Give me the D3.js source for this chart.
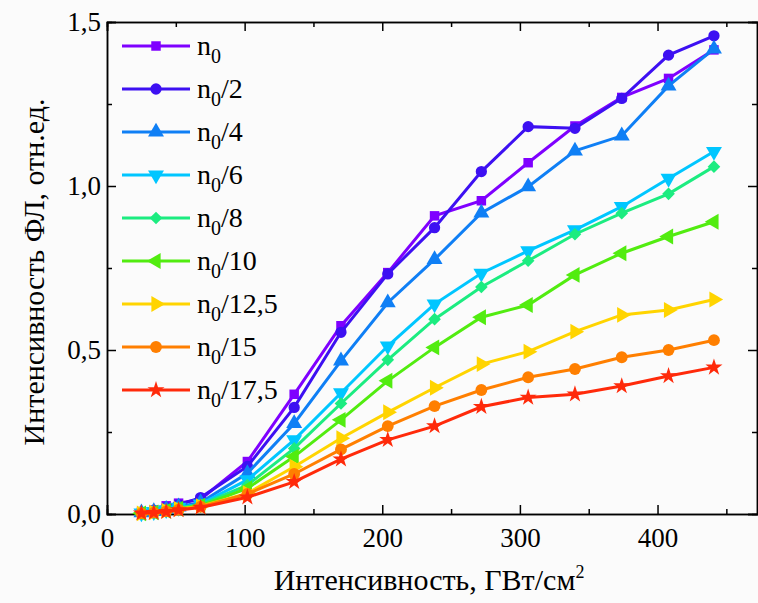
<!DOCTYPE html>
<html>
<head>
<meta charset='utf-8' />
<title>FL intensity</title>
<script src="https://d3js.org/d3.v7.min.js"></script>
<style>
  html, body { margin: 0; padding: 0; background: #fbfbfb; }
  svg { display: block; }
  .axis path, .axis line { stroke: #000; stroke-width: 1.5px; }
</style>
</head>
<body>
<script>
  // intensity, GW/cm^2
  const xVals = [25, 34, 43, 52, 68, 102, 136, 170, 204, 238, 272, 306, 340, 374, 408, 441]

  const seriesNames = ['/0', '/2', '/4', '/6', '/8', '/10', '/12,5', '/15', '/17,5']
  const seriesColors = ['#7f00ff', '#3d10f2', '#0f7ff5', '#00c6ff', '#1cec80', '#52ec10', '#ffd400', '#ff7f00', '#ff2a0a']

  const n0 = [0.005, 0.012, 0.025, 0.033, 0.045, 0.16, 0.365, 0.574, 0.736, 0.909, 0.955, 1.071, 1.183, 1.27, 1.328, 1.415]
  const n0_2 = [0.004, 0.01, 0.02, 0.028, 0.05, 0.145, 0.325, 0.554, 0.732, 0.873, 1.044, 1.181, 1.176, 1.267, 1.399, 1.458]
  const n0_4 = [0.004, 0.008, 0.015, 0.022, 0.035, 0.124, 0.276, 0.467, 0.644, 0.776, 0.918, 0.998, 1.107, 1.153, 1.305, 1.418]
  const n0_6 = [0.003, 0.007, 0.013, 0.02, 0.03, 0.104, 0.226, 0.369, 0.512, 0.64, 0.734, 0.802, 0.866, 0.937, 1.023, 1.105]
  const n0_8 = [0.003, 0.006, 0.012, 0.018, 0.028, 0.088, 0.2, 0.337, 0.47, 0.594, 0.692, 0.772, 0.853, 0.917, 0.976, 1.059]
  const n0_10 = [0.002, 0.005, 0.01, 0.016, 0.025, 0.078, 0.175, 0.287, 0.406, 0.508, 0.6, 0.637, 0.729, 0.795, 0.846, 0.891]
  const n0_12 = [0.002, 0.005, 0.01, 0.015, 0.024, 0.063, 0.144, 0.231, 0.31, 0.385, 0.457, 0.495, 0.556, 0.607, 0.622, 0.654]
  const n0_15 = [0.002, 0.004, 0.008, 0.013, 0.022, 0.061, 0.122, 0.197, 0.268, 0.329, 0.378, 0.417, 0.442, 0.478, 0.5, 0.53]
  const n0_17 = [0.002, 0.004, 0.007, 0.012, 0.02, 0.051, 0.098, 0.167, 0.226, 0.268, 0.327, 0.355, 0.365, 0.39, 0.421, 0.447]

  const seriesValues = [n0, n0_2, n0_4, n0_6, n0_8, n0_10, n0_12, n0_15, n0_17]

  const xTicks = [0, 100, 200, 300, 400]
  const xMinor = [50, 150, 250, 350, 450]
  const yTicks = [0, 0.5, 1.0, 1.5]
  const yMinor = [0.25, 0.75, 1.25]

  const W = 758, H = 603
  const plotL = 107, plotR = 758, plotT = 22, plotB = 514
  const SERIF = "'Liberation Serif', 'Times New Roman', serif"

  const svg = d3.select('body').append('svg')
    .attr('width', W)
    .attr('height', H)
    .attr('font-family', SERIF)

  const x = d3.scaleLinear().domain([0, 473]).range([plotL, plotR])
  const y = d3.scaleLinear().domain([0, 1.5]).range([plotB, plotT])

  const fmtY = d => d3.format('.1f')(d).replace('.', ',')

  // axes, ticks pointing inward
  const styleAxis = g => g.attr('font-family', SERIF).attr('font-size', 27)
    .call(s => s.selectAll('text').attr('fill', '#000'))

  svg.append('g').attr('class', 'axis')
    .attr('transform', `translate(0,${plotB})`)
    .call(d3.axisBottom(x).tickValues(xTicks).tickSize(-9).tickPadding(14).tickFormat(d3.format('d')))
    .call(styleAxis)
  svg.append('g').attr('class', 'axis')
    .attr('transform', `translate(0,${plotB})`)
    .call(d3.axisBottom(x).tickValues(xMinor).tickSize(-5).tickFormat(''))
  svg.append('g').attr('class', 'axis')
    .attr('transform', `translate(0,${plotT})`)
    .call(d3.axisTop(x).tickValues(xTicks).tickSize(-9).tickFormat(''))
  svg.append('g').attr('class', 'axis')
    .attr('transform', `translate(0,${plotT})`)
    .call(d3.axisTop(x).tickValues(xMinor).tickSize(-5).tickFormat(''))

  svg.append('g').attr('class', 'axis')
    .attr('transform', `translate(${plotL},0)`)
    .call(d3.axisLeft(y).tickValues(yTicks).tickSize(-9).tickPadding(6).tickFormat(fmtY))
    .call(styleAxis)
  svg.append('g').attr('class', 'axis')
    .attr('transform', `translate(${plotL},0)`)
    .call(d3.axisLeft(y).tickValues(yMinor).tickSize(-5).tickFormat(''))
  svg.append('g').attr('class', 'axis')
    .attr('transform', `translate(${plotR - 1},0)`)
    .call(d3.axisRight(y).tickValues(yTicks).tickSize(-9).tickFormat(''))
  svg.append('g').attr('class', 'axis')
    .attr('transform', `translate(${plotR - 1},0)`)
    .call(d3.axisRight(y).tickValues(yMinor).tickSize(-5).tickFormat(''))

  svg.selectAll('.axis .domain').attr('stroke-width', 2)

  // titles
  const xTitle = svg.append('text')
    .attr('font-family', SERIF).attr('font-size', 30)
    .attr('x', 429).attr('y', 590)
    .attr('text-anchor', 'middle')
  xTitle.append('tspan').text('Интенсивность, ГВт/см')
  xTitle.append('tspan').attr('dy', -12).attr('font-size', 18).text('2')

  svg.append('text')
    .attr('font-family', SERIF).attr('font-size', 30)
    .attr('transform', `translate(44,${(plotT + plotB) / 2 + 4}) rotate(-90)`)
    .attr('text-anchor', 'middle')
    .text('Интенсивность ФЛ, отн.ед.')

  // marker shapes
  const markers = [
    { type: d3.symbolSquare, size: 90, rot: 0 },
    { type: d3.symbolCircle, size: 100, rot: 0 },
    { type: d3.symbolTriangle, size: 110, rot: 0 },
    { type: d3.symbolTriangle, size: 110, rot: 180 },
    { type: d3.symbolSquare, size: 80, rot: 45 },
    { type: d3.symbolTriangle, size: 110, rot: -90 },
    { type: d3.symbolTriangle, size: 110, rot: 90 },
    { type: d3.symbolCircle, size: 110, rot: 0 },
    { type: d3.symbolStar, size: 90, rot: 0 }
  ]

  const line = d3.line()
    .x(d => x(d[0]))
    .y(d => y(d[1]))

  const plot = svg.append('g')

  seriesValues.forEach((vals, i) => {
    const pts = xVals.map((xv, j) => [xv, vals[j]])
    plot.append('path')
      .datum(pts)
      .attr('d', line)
      .attr('fill', 'none')
      .attr('stroke', seriesColors[i])
      .attr('stroke-width', 3)

    plot.selectAll(null)
      .data(pts)
      .enter()
      .append('path')
      .attr('d', d3.symbol().type(markers[i].type).size(markers[i].size))
      .attr('transform', d => `translate(${x(d[0])},${y(d[1])}) rotate(${markers[i].rot})`)
      .attr('fill', seriesColors[i])
  })

  // legend
  const legend = svg.append('g').attr('font-family', SERIF).attr('font-size', 28)
  seriesNames.forEach((name, i) => {
    const ly = 46 + 43 * i
    const g = legend.append('g').attr('transform', `translate(0,${ly})`)
    g.append('line')
      .attr('x1', 122).attr('x2', 190)
      .attr('stroke', seriesColors[i]).attr('stroke-width', 3)
    g.append('path')
      .attr('d', d3.symbol().type(markers[i].type).size(markers[i].size))
      .attr('transform', `translate(156,0) rotate(${markers[i].rot})`)
      .attr('fill', seriesColors[i])
    const t = g.append('text').attr('x', 197).attr('y', 9)
    t.append('tspan').text('n')
    t.append('tspan').attr('dy', 8).attr('font-size', 20).text('0')
    if (name !== '/0') t.append('tspan').attr('dy', -8).text(name)
  })
</script>
</body>
</html>
